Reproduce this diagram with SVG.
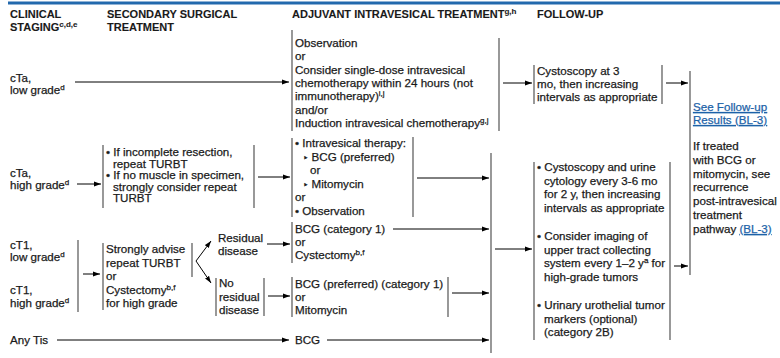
<svg xmlns="http://www.w3.org/2000/svg" width="780" height="358" viewBox="0 0 780 358">
<style>
text{font-family:"Liberation Sans",Arial,"DejaVu Sans",sans-serif;font-size:11.6px;fill:#1a1a1a;stroke:#1a1a1a;stroke-width:0.25px}
.h{font-weight:bold;font-size:11px;stroke-width:0.1px}
.sup{font-size:8px}
.bar{stroke:#7f7f7f;stroke-width:1.6;fill:none}
.arr{stroke:#000;stroke-width:1;fill:none;marker-end:url(#ah)}
.link{fill:#1e63a8;stroke:#1e63a8;text-decoration:underline}
</style>
<defs>
<marker id="ah" markerWidth="8" markerHeight="6" refX="7" refY="3" orient="auto" markerUnits="userSpaceOnUse"><path d="M0,0.6 L7,3 L0,5.4 Z" fill="#000"/></marker>
</defs>
<rect width="780" height="358" fill="#fff"/>
<line x1="8" y1="3" x2="780" y2="3" stroke="#2269ad" stroke-width="3"/>

<g id="headers">
<text class="h" x="10" y="18">CLINICAL</text>
<text class="h" x="10" y="31">STAGING<tspan class="sup" dy="-4">c,d,e</tspan></text>
<text class="h" x="107" y="18">SECONDARY SURGICAL</text>
<text class="h" x="107" y="31">TREATMENT</text>
<text class="h" x="292" y="18">ADJUVANT INTRAVESICAL TREATMENT<tspan class="sup" dy="-4">g,h</tspan></text>
<text class="h" x="537" y="18">FOLLOW-UP</text>
</g>

<g id="cta-low">
<text x="10" y="82">cTa,</text>
<text x="10" y="94">low grade<tspan class="sup" dy="-4">d</tspan></text>
</g>

<g id="adj-observation">
<line class="bar" x1="292" y1="30" x2="292" y2="131"/>
<line class="bar" x1="499" y1="38" x2="499" y2="131"/>
<text x="295" y="47">Observation</text>
<text x="295" y="60">or</text>
<text x="295" y="73.5">Consider single-dose intravesical</text>
<text x="295" y="87">chemotherapy within 24 hours (not</text>
<text x="295" y="100">immunotherapy)<tspan class="sup" dy="-4">i,j</tspan></text>
<text x="295" y="113.5">and/or</text>
<text x="295" y="127">Induction intravesical chemotherapy<tspan class="sup" dy="-4">g,j</tspan></text>
</g>

<g id="fu-cystoscopy3">
<line class="bar" x1="534" y1="65" x2="534" y2="104"/>
<line class="bar" x1="662" y1="65" x2="662" y2="104"/>
<text x="537" y="75">Cystoscopy at 3</text>
<text x="537" y="88">mo, then increasing</text>
<text x="537" y="101">intervals as appropriate</text>
</g>

<g id="results">
<line class="bar" x1="690" y1="71" x2="690" y2="275"/>
<text class="link" x="693" y="111">See Follow-up</text>
<text class="link" x="693" y="124">Results (BL-3)</text>
<text x="693" y="150">If treated</text>
<text x="693" y="164">with BCG or</text>
<text x="693" y="178">mitomycin, see</text>
<text x="693" y="191">recurrence</text>
<text x="693" y="205">post-intravesical</text>
<text x="693" y="219">treatment</text>
<text x="693" y="233">pathway <tspan class="link">(BL-3)</tspan></text>
</g>

<g id="cta-high">
<text x="10" y="177">cTa,</text>
<text x="10" y="189">high grade<tspan class="sup" dy="-4">d</tspan></text>
</g>

<g id="sec-repeat-turbt">
<line class="bar" x1="103" y1="145" x2="103" y2="208"/>
<line class="bar" x1="254" y1="145" x2="254" y2="208"/>
<text x="106" y="156">• If incomplete resection,</text>
<text x="113" y="167.6">repeat TURBT</text>
<text x="106" y="179.2">• If no muscle in specimen,</text>
<text x="113" y="190.8">strongly consider repeat</text>
<text x="113" y="202.4">TURBT</text>
</g>

<g id="adj-intravesical">
<line class="bar" x1="292" y1="138" x2="292" y2="217"/>
<line class="bar" x1="413" y1="137" x2="413" y2="217"/>
<text x="295" y="147">• Intravesical therapy:</text>
<text x="303" y="161"><tspan font-size="9">‣</tspan> BCG (preferred)</text>
<text x="310" y="174">or</text>
<text x="303" y="188"><tspan font-size="9">‣</tspan> Mitomycin</text>
<text x="295" y="201">or</text>
<text x="295" y="215">• Observation</text>
</g>

<g id="ct1">
<text x="10" y="249">cT1,</text>
<text x="10" y="261">low grade<tspan class="sup" dy="-4">d</tspan></text>
<text x="10" y="294">cT1,</text>
<text x="10" y="307">high grade<tspan class="sup" dy="-4">d</tspan></text>
<line class="bar" x1="78" y1="240" x2="78" y2="312"/>
</g>

<g id="sec-strongly-advise">
<line class="bar" x1="103" y1="243" x2="103" y2="310"/>
<line class="bar" x1="192" y1="243" x2="192" y2="277"/>
<text x="106" y="253">Strongly advise</text>
<text x="106" y="266.5">repeat TURBT</text>
<text x="106" y="280">or</text>
<text x="106" y="293.5">Cystectomy<tspan class="sup" dy="-4">b,f</tspan></text>
<text x="106" y="307">for high grade</text>
</g>

<g id="residual">
<text x="218" y="242">Residual</text>
<text x="218" y="255">disease</text>
</g>

<g id="no-residual">
<line class="bar" x1="216" y1="278" x2="216" y2="316"/>
<line class="bar" x1="264" y1="278" x2="264" y2="316"/>
<text x="219" y="287">No</text>
<text x="219" y="300.5">residual</text>
<text x="219" y="314">disease</text>
</g>

<g id="adj-bcg-cat1">
<line class="bar" x1="292" y1="222" x2="292" y2="263"/>
<text x="295" y="233">BCG (category 1)</text>
<text x="295" y="246">or</text>
<text x="295" y="259">Cystectomy<tspan class="sup" dy="-4">b,f</tspan></text>
</g>

<g id="adj-bcg-preferred">
<line class="bar" x1="292" y1="277" x2="292" y2="317"/>
<line class="bar" x1="448" y1="277" x2="448" y2="317"/>
<text x="295" y="287.5">BCG (preferred) (category 1)</text>
<text x="295" y="300.5">or</text>
<text x="295" y="314">Mitomycin</text>
</g>

<g id="any-tis">
<text x="10" y="344">Any Tis</text>
</g>

<g id="adj-bcg">
<text x="295" y="344">BCG</text>
</g>

<g id="fu-cystoscopy-urine">
<line class="bar" x1="534" y1="162" x2="534" y2="340"/>
<line class="bar" x1="670" y1="162" x2="670" y2="340"/>
<text x="537" y="171">• Cystoscopy and urine</text>
<text x="544" y="184.5">cytology every 3-6 mo</text>
<text x="544" y="198">for 2 y, then increasing</text>
<text x="544" y="211.5">intervals as appropriate</text>
<text x="537" y="240">• Consider imaging of</text>
<text x="544" y="253.5">upper tract collecting</text>
<text x="544" y="267">system every 1–2 y<tspan class="sup" dy="-4">a</tspan><tspan dy="4"> for</tspan></text>
<text x="544" y="280.5">high-grade tumors</text>
<text x="537" y="309">• Urinary urothelial tumor</text>
<text x="544" y="322.5">markers (optional)</text>
<text x="544" y="336">(category 2B)</text>
</g>

<g id="connectors">
<line class="arr" x1="75" y1="82" x2="289" y2="82"/>
<line class="arr" x1="503" y1="83" x2="532" y2="83"/>
<line class="arr" x1="666" y1="83" x2="688" y2="83"/>
<line class="arr" x1="77" y1="184" x2="101" y2="184"/>
<line class="arr" x1="258" y1="177" x2="290" y2="177"/>
<line class="arr" x1="417" y1="178" x2="489" y2="178"/>
<line class="bar" x1="491" y1="153" x2="491" y2="353"/>
<line class="arr" x1="495" y1="249" x2="532" y2="249"/>
<line class="arr" x1="674" y1="266" x2="688" y2="266"/>
<line class="arr" x1="83" y1="274" x2="100" y2="274"/>
<line class="arr" x1="196" y1="261" x2="211" y2="241"/>
<line class="arr" x1="196" y1="261" x2="211" y2="283"/>
<line class="arr" x1="267" y1="244" x2="290" y2="244"/>
<line class="arr" x1="393" y1="229" x2="489" y2="229"/>
<line class="arr" x1="268" y1="296" x2="290" y2="296"/>
<line class="arr" x1="452" y1="293" x2="489" y2="293"/>
<line class="arr" x1="57" y1="340" x2="289" y2="340"/>
<line class="arr" x1="327" y1="340" x2="489" y2="340"/>
</g>
</svg>
